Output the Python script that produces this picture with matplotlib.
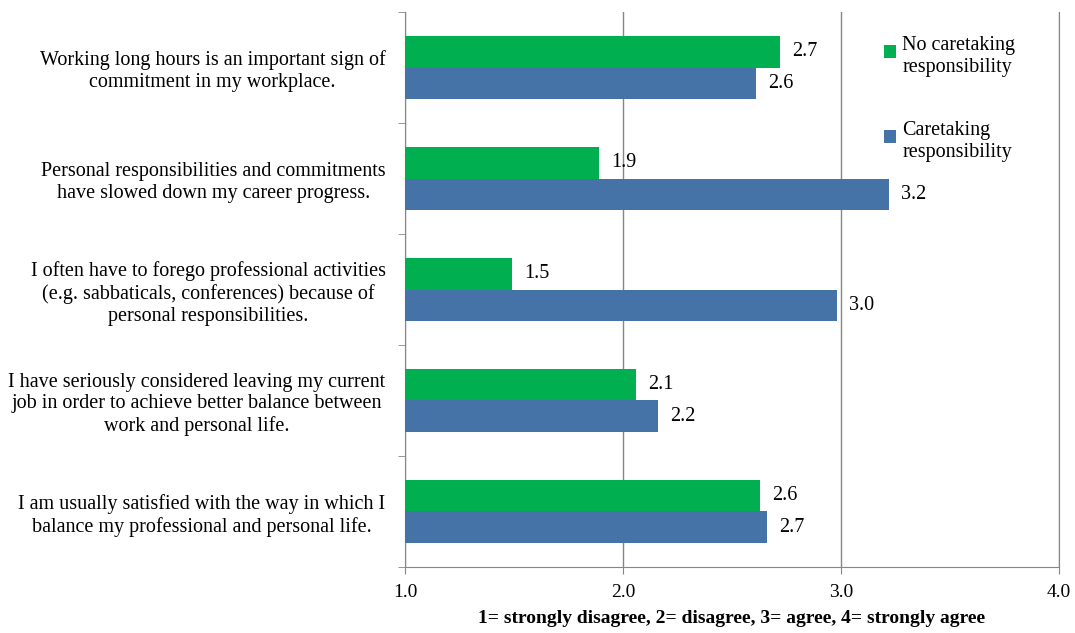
import numpy as np
import matplotlib
matplotlib.use("Agg")
from matplotlib import pyplot as plt
from matplotlib.patches import Rectangle
from matplotlib.container import BarContainer
from matplotlib.legend_handler import HandlerPatch, update_from_first_child

plt.rcParams["font.family"] = ["Liberation Serif", "DejaVu Serif"]

# statements, top to bottom
statements = [
    "Working long hours is an important sign of\ncommitment in my workplace.",
    "Personal responsibilities and commitments\nhave slowed down my career progress.",
    "I often have to forego professional activities\n(e.g. sabbaticals, conferences) because of\npersonal responsibilities.",
    "I have seriously considered leaving my current\njob in order to achieve better balance between\nwork and personal life.",
    "I am usually satisfied with the way in which I\nbalance my professional and personal life.",
]
no_caretaking = [2.72, 1.89, 1.49, 2.06, 2.63]
caretaking = [2.61, 3.22, 2.98, 2.16, 2.66]
series_names = ["No caretaking\nresponsibility", "Caretaking\nresponsibility"]
x_ticks = [1.0, 2.0, 3.0, 4.0]
x_title = "1= strongly disagree, 2= disagree, 3= agree, 4= strongly agree"

green = "#00B050"
blue = "#4572A7"
grid_col = "#868686"
fs = 14.5

fig = plt.figure(figsize=(10.75, 6.33), dpi=100)
ax = fig.add_axes([0.3767, 0.1043, 0.6085, 0.8767])

y = np.arange(len(statements))
h = 0.28
base = 1.0

ax.barh(y - h / 2, np.array(no_caretaking) - base, height=h, left=base,
        color=green, label=series_names[0], zorder=3)
ax.barh(y + h / 2, np.array(caretaking) - base, height=h, left=base,
        color=blue, label=series_names[1], zorder=3)

for v, yy in zip(no_caretaking, y - h / 2):
    ax.text(v + 0.055, yy, f"{v:.1f}", va="center", ha="left", fontsize=fs, zorder=4)
for v, yy in zip(caretaking, y + h / 2):
    ax.text(v + 0.055, yy, f"{v:.1f}", va="center", ha="left", fontsize=fs, zorder=4)

ax.set_xlim(1.0, 4.0)
ax.set_ylim(len(statements) - 0.5, -0.5)
ax.set_xticks(x_ticks)
ax.set_xticklabels([f"{t:.1f}" for t in x_ticks], fontsize=14)
ax.xaxis.grid(True, color=grid_col, linewidth=1.0, zorder=0)
ax.tick_params(axis="x", length=5, color=grid_col, pad=7)

ax.set_yticks(y)
ax.set_yticklabels(statements, fontsize=fs)
for lbl in ax.get_yticklabels():
    lbl.set_multialignment("center")
ax.set_yticks(np.arange(len(statements) + 1) - 0.5, minor=True)
ax.tick_params(axis="y", which="major", length=0, pad=14)
ax.tick_params(axis="y", which="minor", length=5, color=grid_col)

ax.spines["top"].set_visible(False)
for s in ["left", "bottom", "right"]:
    ax.spines[s].set_color(grid_col)

ax.set_xlabel(x_title, fontsize=14, fontweight="bold", labelpad=7)


# legend square sits next to the first line of the label
def top_square(legend, orig_handle, xdescent, ydescent, width, height, fontsize):
    s = 0.62 * fontsize
    return Rectangle((-xdescent, -ydescent + height - s - 0.3 * fontsize), s, s)


leg = ax.legend(loc="upper left", bbox_to_anchor=(0.704, 0.99), frameon=False,
                fontsize=fs, handlelength=0.62, handleheight=2.3,
                handletextpad=0.3, labelspacing=2.2,
                handler_map={BarContainer: HandlerPatch(patch_func=top_square,
                                                        update_func=update_from_first_child)})

fig.savefig("out.png", dpi=100)
